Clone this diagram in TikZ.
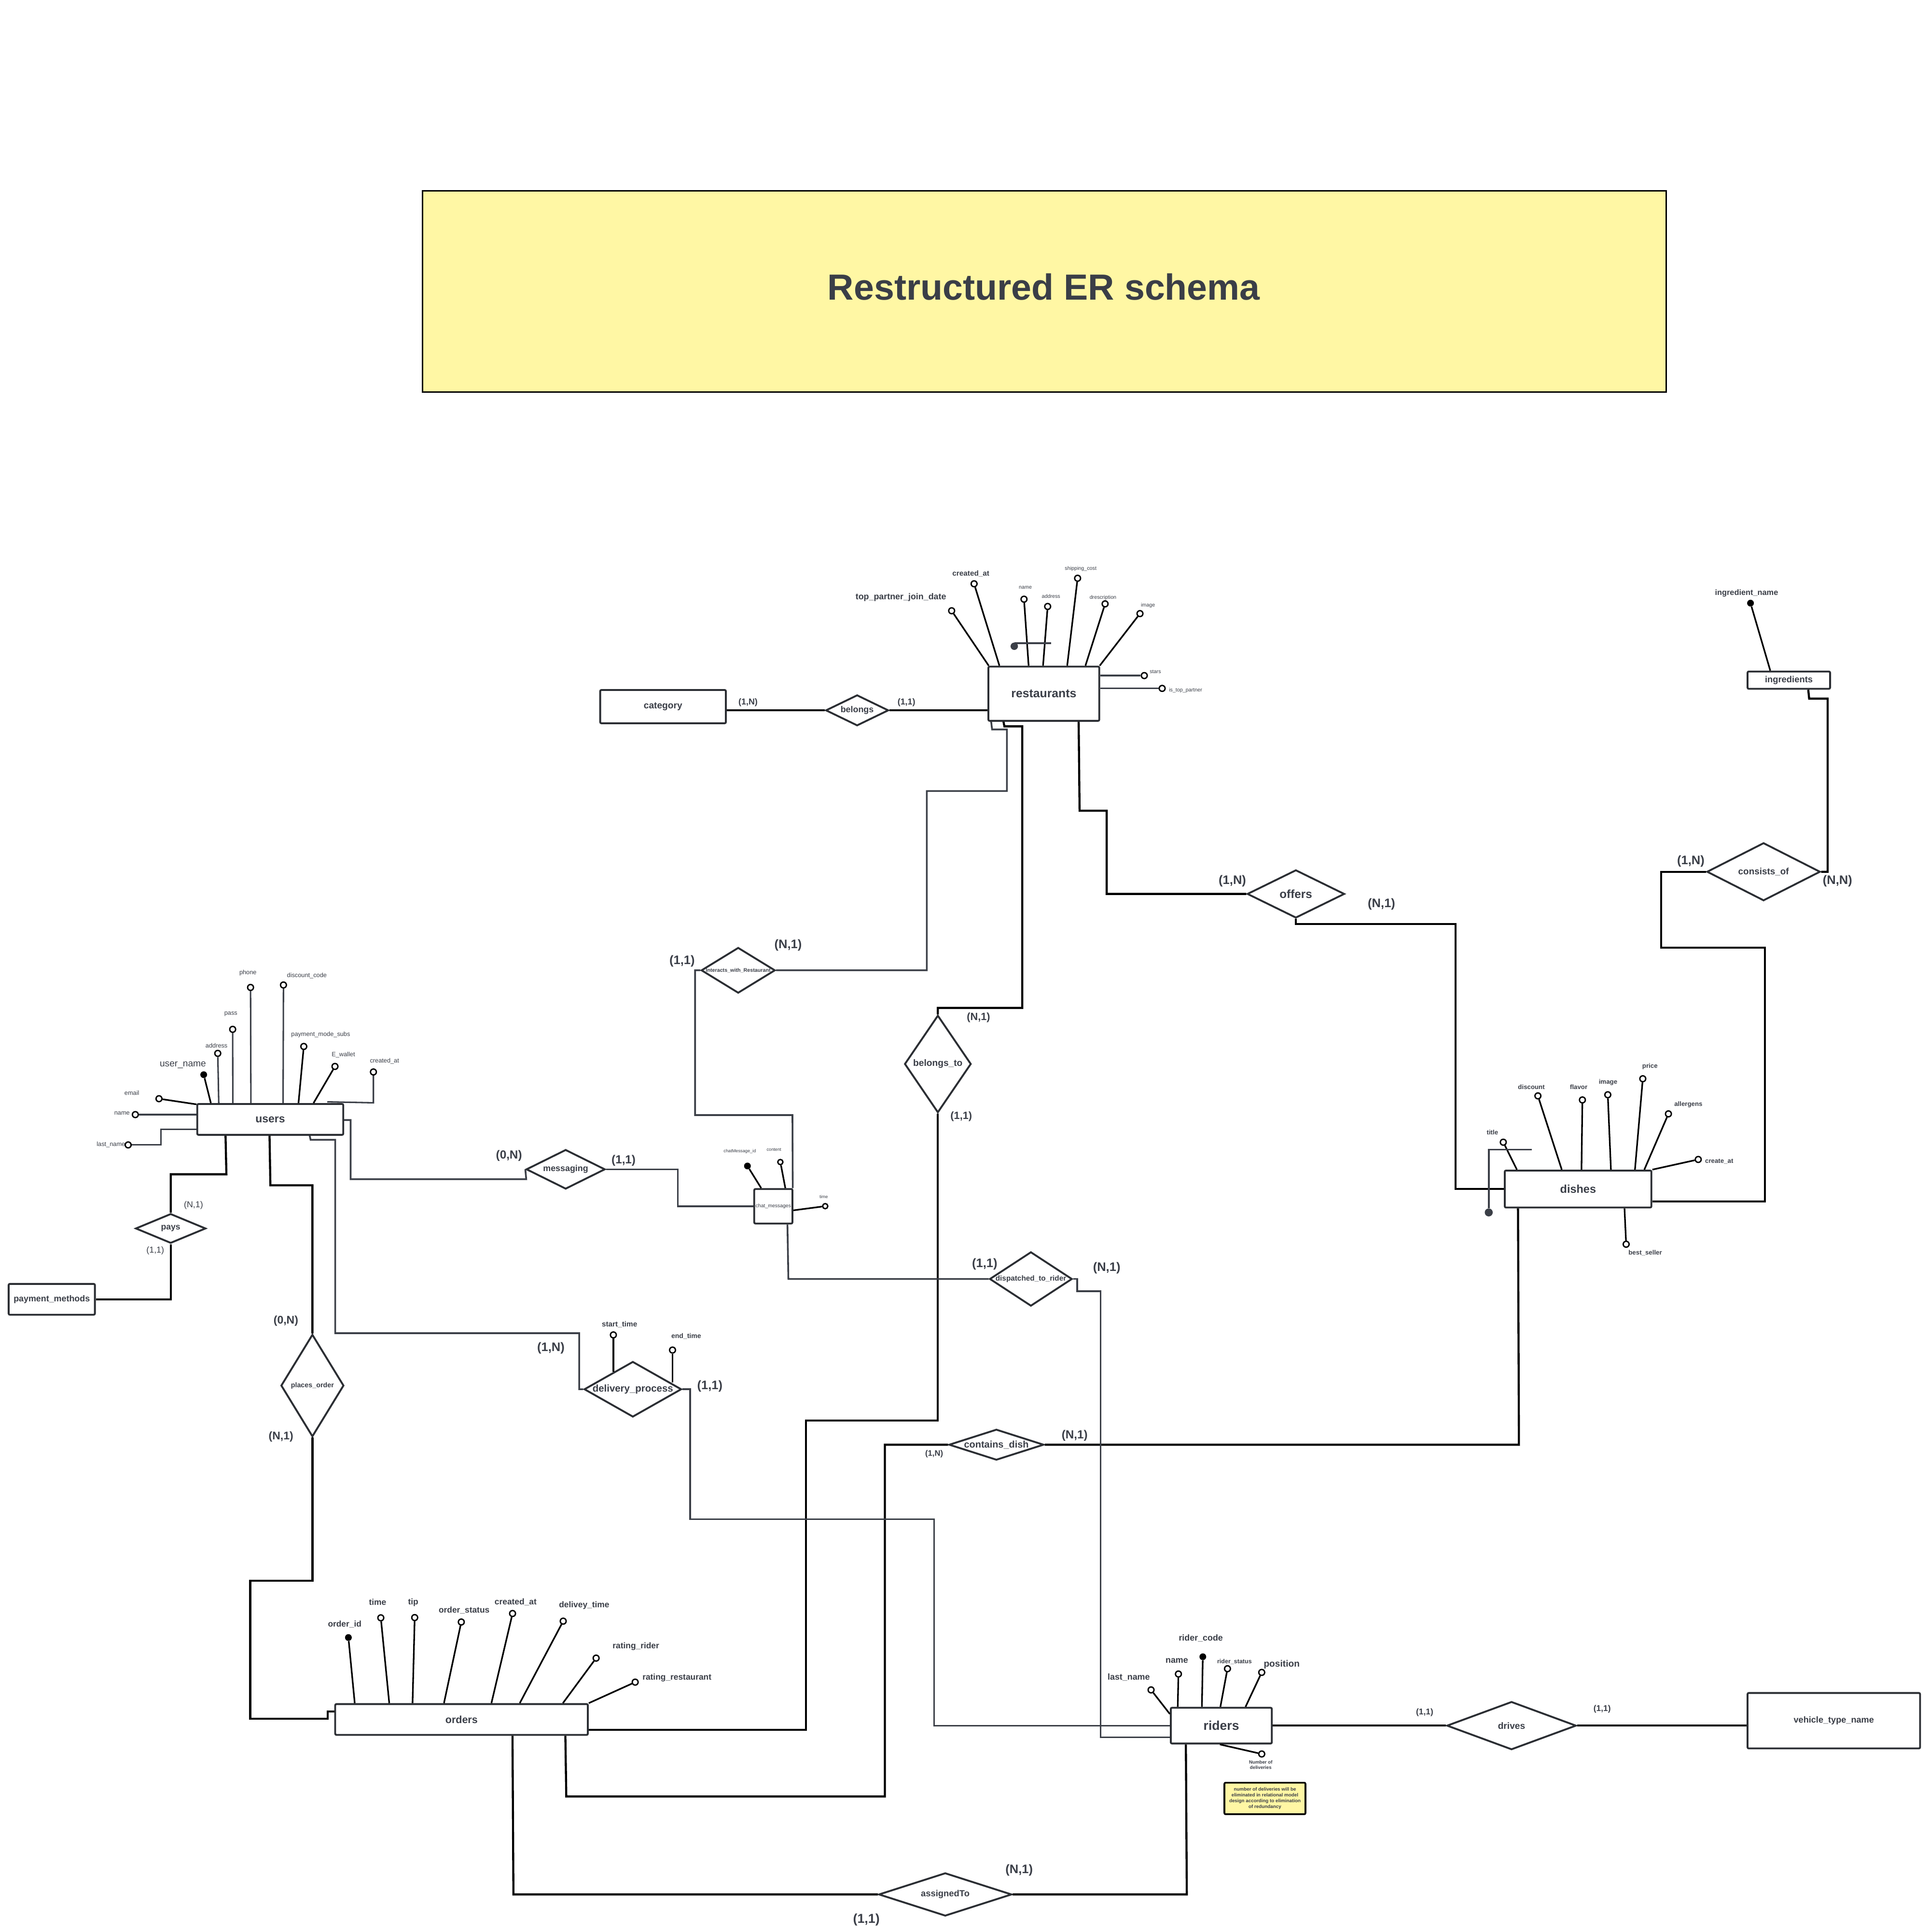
\documentclass[tikz,border=0pt]{standalone}
\usepackage{fontspec}
\setmainfont{Liberation Sans}
\usetikzlibrary{shapes.geometric}
\definecolor{ink}{HTML}{2B2E33}
\definecolor{txt}{HTML}{3A3E47}
\definecolor{gline}{HTML}{3B3F47}
\definecolor{notefill}{HTML}{FFF7A4}
\newcommand\fsz[1]{\fontsize{#1pt}{#1pt}\selectfont}
\begin{document}
\begin{tikzpicture}[x=1pt,y=-1pt,
  ent/.style={draw=ink, line width=1.5pt, rounded corners=1pt, fill=white, inner sep=0pt, text=txt},
  rel/.style={draw=ink, line width=1.5pt, shape=diamond, inner sep=0pt, fill=white},
  attr/.style={circle, draw=black, line width=1.1pt, fill=white, inner sep=0pt, minimum size=4.8pt},
  keyattr/.style={circle, fill=black, inner sep=0pt, minimum size=5.5pt},
  lbl/.style={text=txt, inner sep=0pt},
  card/.style={lbl, font=\fsz{10}\bfseries},
  conn/.style={line width=1.7pt, black},
  gconn/.style={line width=1.4pt, gline},
  aline/.style={line width=1.3pt, black},
  galine/.style={line width=1.2pt, gline},
]
% canvas
\fill[white] (0,0) rectangle (1565,1568);
\useasboundingbox (0,0) rectangle (1565,1568);

% title banner
\node[draw=black, line width=1.2pt, fill=notefill, minimum width=1009pt, minimum height=163pt, inner sep=0pt] (title) at (847.5,236.5) {};
\node[lbl, font=\fsz{29.5}\bfseries] (title_t) at (847,233) {Restructured ER schema};

% ---------------- entities ----------------
\node[ent, minimum width=102pt, minimum height=27pt, font=\fsz{7.5}\bfseries] (category) at (538,573.5) {category};
\node[ent, minimum width=90pt, minimum height=44pt, font=\fsz{9.7}\bfseries] (restaurants) at (847,563) {restaurants};
\node[ent, minimum width=67pt, minimum height=14pt, font=\fsz{7.2}\bfseries] (ingredients) at (1451.5,552) {ingredients};
\node[ent, minimum width=119pt, minimum height=30pt, font=\fsz{9.2}\bfseries] (dishes) at (1280.5,965) {dishes};
\node[ent, minimum width=118.5pt, minimum height=25pt, font=\fsz{9}\bfseries] (users) at (219.3,908.5) {users};
\node[ent, minimum width=70pt, minimum height=25pt, font=\fsz{7}\bfseries] (payment) at (42,1054.5) {payment\_methods};
\node[ent, minimum width=31pt, minimum height=28pt, font=\fsz{4.1}] (chat) at (627.5,979) {chat\_messages};
\node[ent, minimum width=205pt, minimum height=25pt, font=\fsz{8.4}\bfseries] (orders) at (374.5,1395.5) {orders};
\node[ent, minimum width=82pt, minimum height=29pt, font=\fsz{10.4}\bfseries] (riders) at (991,1400.5) {riders};
\node[ent, minimum width=140pt, minimum height=45pt, font=\fsz{7.1}\bfseries] (vehicle) at (1488,1396.5) {vehicle\_type\_name};

% ---------------- relationships ----------------
\node[rel, minimum width=51pt, minimum height=25pt] (belongs) at (695.5,576.5) {};
\node[lbl, font=\fsz{7}\bfseries] (belongs_t) at (belongs) {belongs};
\node[rel, minimum width=79pt, minimum height=39pt] (offers) at (1051.5,725.5) {};
\node[lbl, font=\fsz{9.5}\bfseries] (offers_t) at (offers) {offers};
\node[rel, minimum width=92pt, minimum height=47pt] (consists) at (1431,707.5) {};
\node[lbl, font=\fsz{7.4}\bfseries] (consists_t) at (consists) {consists\_of};
\node[rel, minimum width=60pt, minimum height=37pt] (interacts) at (599,787.5) {};
\node[lbl, font=\fsz{4.2}\bfseries] (interacts_t) at (interacts) {Interacts\_with\_Restaurant};
\node[rel, minimum width=54pt, minimum height=79pt] (belongs_to) at (761,863.5) {};
\node[lbl, font=\fsz{7.5}\bfseries] (belongs_to_t) at (belongs_to) {belongs\_to};
\node[rel, minimum width=64pt, minimum height=32pt] (messaging) at (459,949) {};
\node[lbl, font=\fsz{7}\bfseries] (messaging_t) at (messaging) {messaging};
\node[rel, minimum width=57pt, minimum height=24pt] (pays) at (138.5,997) {};
\node[lbl, font=\fsz{6.9}\bfseries] (pays_t) at (pays) {pays};
\node[rel, minimum width=67pt, minimum height=44pt] (dispatched) at (836.5,1038) {};
\node[lbl, font=\fsz{6}\bfseries] (dispatched_t) at (dispatched) {dispatched\_to\_rider};
\node[rel, minimum width=51pt, minimum height=83pt] (places) at (253.5,1124.5) {};
\node[lbl, font=\fsz{5.6}\bfseries] (places_t) at (places) {places\_order};
\node[rel, minimum width=79pt, minimum height=45pt] (delivery) at (513.5,1127.5) {};
\node[lbl, font=\fsz{8}\bfseries] (delivery_t) at (delivery) {delivery\_process};
\node[rel, minimum width=77pt, minimum height=25pt] (contains) at (808.5,1172.5) {};
\node[lbl, font=\fsz{7.8}\bfseries] (contains_t) at (contains) {contains\_dish};
\node[rel, minimum width=108pt, minimum height=35pt] (assigned) at (767,1537.5) {};
\node[lbl, font=\fsz{7.2}\bfseries] (assigned_t) at (assigned) {assignedTo};
\node[rel, minimum width=105pt, minimum height=39pt] (drives) at (1226.5,1400.5) {};
\node[lbl, font=\fsz{7.5}\bfseries] (drives_t) at (drives) {drives};

% ---------------- connectors ----------------
\draw[conn] (belongs.west -| category.east) -- (belongs.west);
\draw[conn] (belongs.east) -- (belongs.east -| restaurants.west);
\draw[gconn] ([xshift=3pt]restaurants.south west) -- (805,592) -- (817,592) -- (817,642) -- (752,642) -- (752,787.5) -- (interacts.east);
\draw[conn] ([xshift=13pt]restaurants.south west) -- (815,589.5) -- (829.5,589.5) -- (829.5,818) -- (761,818) -- (belongs_to.north);
\draw[conn] ([xshift=74pt]restaurants.south west) -- (876,658) -- (898,658) -- (898,725.5) -- (offers.west);
\draw[conn] (offers.south) -- (1051.5,750) -- (1181,750) -- (1181,965) -- (dishes.west);
\draw[conn] ([yshift=-10pt]dishes.east) -- (1432,975) -- (1432,769) -- (1348,769) -- (1348,707.5) -- (consists.west);
\draw[conn] (consists.east) -- (1483,707.5) -- (1483,567) -- (1468,567) -- ([xshift=50pt]ingredients.south west);
\draw[conn] ([xshift=11.5pt]dishes.south west) -- (1232.5,1172.5) -- (contains.east);
\draw[conn] (contains.west) -- (718,1172.5) -- (718,1458) -- (459.5,1458) -- ([xshift=187.5pt]orders.south west);
\draw[conn] (belongs_to.south) -- (761,1153) -- (654,1153) -- (654,1404) -- ([yshift=-8.5pt]orders.east);
\draw[conn] ([xshift=144.6pt]orders.south west) -- (416.6,1537.5) -- (assigned.west);
\draw[conn] (assigned.east) -- (963,1537.5) -- ([xshift=13pt]riders.south west);
\draw[conn] (riders.east) -- (drives.west);
\draw[conn] (drives.east) -- (drives.east -| vehicle.west);
\draw[conn] ([xshift=23.7pt]users.south west) -- (183.7,953) -- (138.5,953) -- (pays.north);
\draw[conn] (pays.south) -- (138.5,1054.5) -- (payment.east);
\draw[conn] ([xshift=59.4pt]users.south west) -- (219.4,962) -- (253.5,962) -- (places.north);
\draw[conn] (places.south) -- (253.5,1283) -- (203,1283) -- (203,1395) -- (266,1395) -- (266,1389) -- ([yshift=6.5pt]orders.west);
\draw[gconn] ([xshift=92pt]users.south west) -- (252,925) -- (272,925) -- (272,1082) -- (470,1082) -- (470,1127.5) -- (delivery.west);
\draw[gconn] ([yshift=-0.5pt]users.east) -- (284.5,909) -- (284.5,957) -- (427,957) -- (messaging.west);
\draw[gconn] (messaging.east) -- (550,949) -- (550,979) -- (chat.west);
\draw[gconn] (interacts.west) -- (564,787.5) -- (564,905) -- (643,905) -- ([xshift=-0.5pt]chat.north east);
\draw[gconn] ([xshift=27.7pt]chat.south west) -- (639.7,1038) -- (dispatched.west);
\draw[gconn] (dispatched.east) -- (874,1038) -- (874,1048) -- (893,1048) -- (893,1410) -- ([yshift=-9.5pt]riders.west);
\draw[gconn] (delivery.east) -- (560,1127.5) -- (560,1233) -- (758,1233) -- (758,1400.5) -- (riders.west);

% ---------------- cardinalities ----------------
\node[lbl, font=\fsz{7}\bfseries] (c_bel1) at (607,570) {(1,N)};
\node[lbl, font=\fsz{7}\bfseries] (c_bel2) at (735.5,570) {(1,1)};
\node[card] (c_off1) at (1000,715) {(1,N)};
\node[card] (c_off2) at (1121,734) {(N,1)};
\node[card] (c_con1) at (1372,699) {(1,N)};
\node[card] (c_con2) at (1491,715) {(N,N)};
\node[card] (c_int1) at (553.5,780) {(1,1)};
\node[card] (c_int2) at (639.5,767) {(N,1)};
\node[lbl, font=\fsz{8.5}\bfseries] (c_bt1) at (794,826) {(N,1)};
\node[lbl, font=\fsz{8.5}\bfseries] (c_bt2) at (780,906) {(1,1)};
\node[lbl, font=\fsz{9.5}\bfseries] (c_msg1) at (413,938) {(0,N)};
\node[lbl, font=\fsz{9.5}\bfseries] (c_msg2) at (506,942) {(1,1)};
\node[lbl, font=\fsz{7}] (c_pay1) at (157,978) {(N,1)};
\node[lbl, font=\fsz{7}] (c_pay2) at (126,1015) {(1,1)};
\node[card] (c_dis1) at (799,1026) {(1,1)};
\node[card] (c_dis2) at (898,1029) {(N,1)};
\node[lbl, font=\fsz{9}\bfseries] (c_pla1) at (232,1072) {(0,N)};
\node[lbl, font=\fsz{9}\bfseries] (c_pla2) at (228,1166) {(N,1)};
\node[card] (c_del1) at (447,1094) {(1,N)};
\node[card] (c_del2) at (576,1125) {(1,1)};
\node[lbl, font=\fsz{9.5}\bfseries] (c_cd1) at (872,1165) {(N,1)};
\node[lbl, font=\fsz{6.5}\bfseries] (c_cd2) at (758,1180) {(1,N)};
\node[card] (c_as1) at (827,1518) {(N,1)};
\node[lbl, font=\fsz{10.5}\bfseries] (c_as2) at (703,1558) {(1,1)};
\node[lbl, font=\fsz{6.8}\bfseries] (c_dr1) at (1156,1390) {(1,1)};
\node[lbl, font=\fsz{6.8}\bfseries] (c_dr2) at (1300,1387) {(1,1)};

% ---------------- restaurants attributes ----------------
\node[attr] (r_tpjd) at (772.2,495.7) {};
\node[attr] (r_created) at (790.4,473.8) {};
\node[attr] (r_name) at (830.9,486.3) {};
\node[attr] (r_address) at (850.1,492.2) {};
\node[attr] (r_ship) at (874.4,469.3) {};
\node[attr] (r_descr) at (896.7,490.1) {};
\node[attr] (r_image) at (925,498) {};
\node[attr] (r_stars) at (928.5,548.3) {};
\node[attr] (r_top) at (943,558.7) {};
\draw[aline] (r_tpjd) -- ([xshift=1pt]restaurants.north west);
\draw[aline] (r_created) -- ([xshift=9.7pt]restaurants.north west);
\draw[aline] (r_name) -- ([xshift=33.4pt]restaurants.north west);
\draw[aline] (r_address) -- ([xshift=45.1pt]restaurants.north west);
\draw[aline] (r_ship) -- ([xshift=64.7pt]restaurants.north west);
\draw[aline] (r_descr) -- ([xshift=79.5pt]restaurants.north west);
\draw[aline] (r_image) -- ([xshift=-0.4pt]restaurants.north east);
\draw[galine, line width=1.4pt] (r_stars) -- (r_stars -| restaurants.east);
\draw[galine, line width=1.4pt] (r_top) -- (r_top -| restaurants.east);
\node[keyattr, fill=gline, minimum size=6pt] (r_key) at (823,524.5) {};
\coordinate (r_keyend) at (853,522);
\draw[galine, line width=1.5pt] ([yshift=2.5pt]r_key.center) -- (r_keyend);
\node[lbl, font=\fsz{7}\bfseries] (r_tpjd_t) at (731,484.6) {top\_partner\_join\_date};
\node[lbl, font=\fsz{6}\bfseries] (r_created_t) at (787.8,465.4) {created\_at};
\node[lbl, font=\fsz{4.2}] (r_name_t) at (832,477) {name};
\node[lbl, font=\fsz{4.2}] (r_address_t) at (852.8,484) {address};
\node[lbl, font=\fsz{4.2}] (r_ship_t) at (876.9,461.5) {shipping\_cost};
\node[lbl, font=\fsz{4.2}] (r_descr_t) at (895,485) {drescription};
\node[lbl, font=\fsz{4.2}] (r_image_t) at (931.5,491.5) {image};
\node[lbl, font=\fsz{4.2}] (r_stars_t) at (937.5,545.3) {stars};
\node[lbl, font=\fsz{4.2}] (r_top_t) at (962,560.3) {is\_top\_partner};

% ---------------- ingredients attribute ----------------
\node[keyattr] (i_name) at (1420.4,489.5) {};
\draw[aline] (i_name) -- ([xshift=19.2pt]ingredients.north west);
\node[lbl, font=\fsz{6.4}\bfseries] (i_name_t) at (1417.2,481.4) {ingredient\_name};

% ---------------- dishes attributes ----------------
\node[attr] (d_title) at (1219.8,927) {};
\node[attr] (d_discount) at (1247.9,889.4) {};
\node[attr] (d_flavor) at (1284,892.7) {};
\node[attr] (d_image) at (1304.6,888.5) {};
\node[attr] (d_price) at (1333,875.5) {};
\node[attr] (d_allergens) at (1353.8,904) {};
\node[attr] (d_create) at (1378,941) {};
\node[attr] (d_best) at (1319.5,1009.8) {};
\draw[aline] (d_title) -- ([xshift=10.6pt]dishes.north west);
\draw[aline] (d_discount) -- ([xshift=47pt]dishes.north west);
\draw[aline] (d_flavor) -- ([xshift=63pt]dishes.north west);
\draw[aline] (d_image) -- ([xshift=86.9pt]dishes.north west);
\draw[aline] (d_price) -- ([xshift=106.4pt]dishes.north west);
\draw[aline] (d_allergens) -- ([xshift=114pt]dishes.north west);
\draw[aline] (d_create) -- (dishes.north east);
\draw[aline] (d_best) -- ([xshift=97.9pt]dishes.south west);
\node[keyattr, fill=gline, minimum size=6.5pt] (d_key) at (1208,984) {};
\coordinate (d_hookend) at (1243,933);
\draw[galine, line width=1.5pt] (d_hookend) -- (1208,933) -- (d_key);
\node[lbl, font=\fsz{5.2}\bfseries] (d_title_t) at (1211,919) {title};
\node[lbl, font=\fsz{5.2}\bfseries] (d_discount_t) at (1242.6,882.3) {discount};
\node[lbl, font=\fsz{5.2}\bfseries] (d_flavor_t) at (1281,882.3) {flavor};
\node[lbl, font=\fsz{5.2}\bfseries] (d_image_t) at (1304.8,878.4) {image};
\node[lbl, font=\fsz{5.2}\bfseries] (d_price_t) at (1338.8,865.4) {price};
\node[lbl, font=\fsz{5.2}\bfseries] (d_allergens_t) at (1370,896.3) {allergens};
\node[lbl, font=\fsz{5.2}\bfseries] (d_create_t) at (1395,942.5) {create\_at};
\node[lbl, font=\fsz{5.2}\bfseries] (d_best_t) at (1335,1016.7) {best\_seller};

% ---------------- users attributes ----------------
\node[attr] (u_email) at (129,891.7) {};
\node[attr] (u_name) at (109.8,904.6) {};
\node[attr] (u_last) at (104,929.2) {};
\node[keyattr] (u_user) at (165.3,872.2) {};
\node[attr] (u_address) at (176.7,854.9) {};
\node[attr] (u_pass) at (188.8,835.4) {};
\node[attr] (u_phone) at (203.3,801.4) {};
\node[attr] (u_disc) at (230,799.4) {};
\node[attr] (u_paym) at (246.5,849.3) {};
\node[attr] (u_wallet) at (271.8,865.5) {};
\node[attr] (u_created) at (303,870) {};
\draw[aline] (u_email) -- ([yshift=-1pt]users.north west);
\draw[galine] (u_name) -- (u_name -| users.west);
\draw[galine] (u_last) -- (130.6,929.2) -- (130.6,916.7) -- ([yshift=-8.2pt]users.west);
\draw[aline] (u_user) -- ([xshift=11.8pt]users.north west);
\draw[galine] (u_address) -- ([xshift=18.2pt]users.north west);
\draw[galine] (u_pass) -- ([xshift=29.6pt]users.north west);
\draw[galine] (u_phone) -- ([xshift=44.3pt]users.north west);
\draw[galine] (u_disc) -- ([xshift=70.4pt]users.north west);
\draw[aline] (u_paym) -- ([xshift=82.9pt]users.north west);
\draw[aline] (u_wallet) -- ([xshift=95.1pt]users.north west);
\draw[galine] (u_created) -- (303,895) -- ([xshift=106.3pt, yshift=1pt]users.north west);
\node[lbl, font=\fsz{5}] (u_email_t) at (107,887) {email};
\node[lbl, font=\fsz{5}] (u_name_t) at (99,903.3) {name};
\node[lbl, font=\fsz{5}] (u_last_t) at (90,929) {last\_name};
\node[lbl, font=\fsz{7.5}] (u_user_t) at (148.4,864.2) {user\_name};
\node[lbl, font=\fsz{5}] (u_address_t) at (175.7,848.4) {address};
\node[lbl, font=\fsz{5}] (u_pass_t) at (187.3,823) {pass};
\node[lbl, font=\fsz{5}] (u_phone_t) at (201.2,789.7) {phone};
\node[lbl, font=\fsz{5}] (u_disc_t) at (249,792) {discount\_code};
\node[lbl, font=\fsz{5}] (u_paym_t) at (260.2,839.6) {payment\_mode\_subs};
\node[lbl, font=\fsz{5}] (u_wallet_t) at (278.6,856.2) {E\_wallet};
\node[lbl, font=\fsz{5}] (u_created_t) at (312,861) {created\_at};

% ---------------- chat_messages attributes ----------------
\node[keyattr] (c_id) at (606.5,946.3) {};
\node[attr, minimum size=4.2pt] (c_content) at (633.2,943.1) {};
\node[attr, minimum size=4.2pt] (c_time) at (669.6,978.9) {};
\draw[aline] (c_id) -- ([xshift=6.4pt]chat.north west);
\draw[aline] (c_content) -- ([xshift=26pt]chat.north west);
\draw[aline] (c_time) -- ([yshift=-3.3pt]chat.east);
\node[lbl, font=\fsz{3.6}] (c_id_t) at (600.3,934.5) {chatMessage\_id};
\node[lbl, font=\fsz{3.6}] (c_content_t) at (628,933) {content};
\node[lbl, font=\fsz{3.6}] (c_time_t) at (668.4,971.4) {time};

% ---------------- delivery_process attributes ----------------
\node[attr] (p_start) at (497.7,1083.4) {};
\node[attr] (p_end) at (545.7,1095.7) {};
\draw[aline] (p_start) -- ([xshift=-15.8pt, yshift=14pt]delivery.center);
\draw[aline] (p_end) -- ([xshift=32.2pt, yshift=5.4pt]delivery.center);
\node[lbl, font=\fsz{6}\bfseries] (p_start_t) at (502.7,1075) {start\_time};
\node[lbl, font=\fsz{5.5}\bfseries] (p_end_t) at (556.8,1084.4) {end\_time};

% ---------------- orders attributes ----------------
\node[keyattr] (o_id) at (282.7,1329) {};
\node[attr] (o_time) at (309,1313) {};
\node[attr] (o_tip) at (336.5,1312.8) {};
\node[attr] (o_status) at (374.3,1316.4) {};
\node[attr] (o_created) at (415.9,1309.5) {};
\node[attr] (o_deliv) at (457,1315.7) {};
\node[attr] (o_rrider) at (483.7,1345.7) {};
\node[attr] (o_rrest) at (515.4,1365.2) {};
\draw[aline] (o_id) -- ([xshift=16.6pt]orders.north west);
\draw[aline] (o_time) -- ([xshift=44.6pt]orders.north west);
\draw[aline] (o_tip) -- ([xshift=63.5pt]orders.north west);
\draw[aline] (o_status) -- ([xshift=89pt]orders.north west);
\draw[aline] (o_created) -- ([xshift=127.5pt]orders.north west);
\draw[aline] (o_deliv) -- ([xshift=150.5pt]orders.north west);
\draw[aline] (o_rrider) -- ([xshift=185.5pt]orders.north west);
\draw[aline] (o_rrest) -- (orders.north east);
\node[lbl, font=\fsz{6.8}\bfseries] (o_id_t) at (279.7,1318.3) {order\_id};
\node[lbl, font=\fsz{6.8}\bfseries] (o_time_t) at (306.4,1300.4) {time};
\node[lbl, font=\fsz{6.8}\bfseries] (o_tip_t) at (335.3,1300.4) {tip};
\node[lbl, font=\fsz{6.8}\bfseries] (o_status_t) at (376.6,1307) {order\_status};
\node[lbl, font=\fsz{6.8}\bfseries] (o_created_t) at (418.4,1300.4) {created\_at};
\node[lbl, font=\fsz{6.8}\bfseries] (o_deliv_t) at (474,1303) {delivey\_time};
\node[lbl, font=\fsz{6.8}\bfseries] (o_rrider_t) at (516,1336) {rating\_rider};
\node[lbl, font=\fsz{6.8}\bfseries] (o_rrest_t) at (549.3,1361.5) {rating\_restaurant};

% ---------------- riders attributes ----------------
\node[attr] (k_last) at (934,1371.5) {};
\node[attr] (k_name) at (956.2,1358.6) {};
\node[keyattr] (k_code) at (976,1344.6) {};
\node[attr] (k_status) at (996,1354.3) {};
\node[attr] (k_pos) at (1023.8,1357.3) {};
\node[attr] (k_num) at (1023.8,1423.5) {};
\draw[aline] (k_last) -- ([yshift=-5.8pt]riders.north west);
\draw[aline] (k_name) -- ([xshift=6.4pt]riders.north west);
\draw[aline] (k_code) -- ([xshift=26pt]riders.north west);
\draw[aline] (k_status) -- ([xshift=41pt]riders.north west);
\draw[aline] (k_pos) -- ([xshift=61.4pt]riders.north west);
\draw[aline] (k_num) -- ([xshift=40.6pt]riders.south west);
\node[lbl, font=\fsz{7}\bfseries] (k_last_t) at (915.9,1361.4) {last\_name};
\node[lbl, font=\fsz{7}\bfseries] (k_name_t) at (954.9,1347.8) {name};
\node[lbl, font=\fsz{7}\bfseries] (k_code_t) at (974.4,1329.7) {rider\_code};
\node[lbl, font=\fsz{4.9}\bfseries] (k_status_t) at (1001.7,1348.5) {rider\_status};
\node[lbl, font=\fsz{7.5}\bfseries] (k_pos_t) at (1040,1351) {position};
\node[lbl, font=\fontsize{3.8pt}{4.6pt}\selectfont\bfseries, align=center] (k_num_t) at (1023,1432.3) {Number of\\deliveries};
\node[draw=black, line width=1.4pt, fill=notefill, rounded corners=1pt, minimum width=65.8pt, minimum height=25.6pt, inner sep=0pt, align=center, text=txt, font=\fontsize{3.85pt}{4.7pt}\selectfont\bfseries] (note) at (1026.4,1459.6) {number of deliveries will be\\eliminated in relational model\\design according to elimination\\of redundancy};
\end{tikzpicture}
\end{document}
